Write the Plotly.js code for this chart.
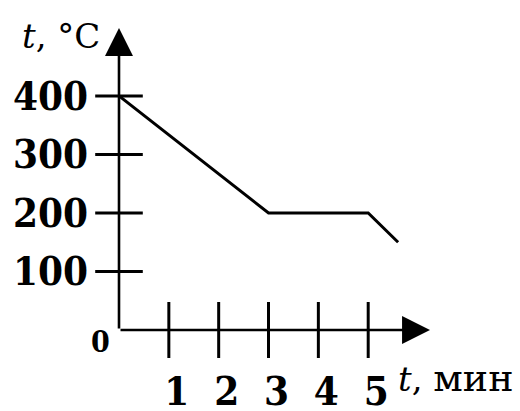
<!DOCTYPE html>
<html>
<head>
<meta charset="utf-8">
<script src="https://cdn.plot.ly/plotly-3.0.1.min.js"></script>
<style>html,body{margin:0;padding:0;background:#fff;}#chart{width:520px;height:411px;}</style>
</head>
<body>
<div id="chart"></div>
<script>
// data
const timeMin = [0, 3, 5, 5.6];
const tempC = [400, 200, 200, 150];
const xTickVals = [1, 2, 3, 4, 5];
const xTickText = ['1', '2', '3', '4', '5'];
const yTickVals = [100, 200, 300, 400];
const yTickText = ['100', '200', '300', '400'];
const xMax = 6.24;
const yMax = 516;

const FONT = 'DejaVu Serif Condensed, DejaVu Serif, serif';
const TFONT = 'DejaVu Serif, Liberation Serif, serif';

const traces = [
  {
    x: timeMin, y: tempC, mode: 'lines', type: 'scatter',
    line: {color: '#000', width: 3}, cliponaxis: false, hoverinfo: 'skip'
  },
  {
    x: xTickVals, y: xTickVals.map(() => 0), mode: 'markers', type: 'scatter',
    marker: {symbol: 'line-ns-open', size: 40, color: '#000', line: {color: '#000', width: 3}},
    cliponaxis: false, hoverinfo: 'skip'
  },
  {
    x: yTickVals.map(() => 0), y: yTickVals, mode: 'markers', type: 'scatter',
    marker: {symbol: 'line-ew-open', size: 34, color: '#000', line: {color: '#000', width: 3}},
    cliponaxis: false, hoverinfo: 'skip'
  }
];

const layout = {
  width: 520, height: 411,
  margin: {l: 119, r: 90, t: 28, b: 81},
  paper_bgcolor: '#fff', plot_bgcolor: '#fff',
  showlegend: false,
  font: {family: FONT, color: '#000'},
  xaxis: {
    range: [0, xMax], showgrid: false, zeroline: false, showline: false,
    tickvals: xTickVals, ticktext: xTickText, ticks: '',
    tickfont: {family: FONT, size: 40, color: '#000', weight: 'bold'},
    ticklabelstandoff: 34, ticklabelshift: 8, fixedrange: true
  },
  yaxis: {
    range: [0, yMax], showgrid: false, zeroline: false, showline: false,
    tickvals: yTickVals, ticktext: yTickText, ticks: '',
    tickfont: {family: FONT, size: 40, color: '#000', weight: 'bold'},
    ticklabelstandoff: 30, fixedrange: true
  },
  annotations: [
    {x: xMax, y: 0, ax: 0, ay: 0, xref: 'x', yref: 'y', axref: 'x', ayref: 'y',
     text: '', showarrow: true, arrowhead: 2, arrowsize: 2.15, arrowwidth: 2.6, arrowcolor: '#000', standoff: 0, startstandoff: 0},
    {x: 0, y: yMax, ax: 0, ay: 0, xref: 'x', yref: 'y', axref: 'x', ayref: 'y',
     text: '', showarrow: true, arrowhead: 2, arrowsize: 2.15, arrowwidth: 2.6, arrowcolor: '#000', standoff: 0, startstandoff: 0},
    {x: -0.318, y: 0.975, xref: 'paper', yref: 'paper', xanchor: 'left', yanchor: 'middle',
     text: '<i>t</i>, °C', showarrow: false, font: {family: TFONT, size: 34, color: '#000'}},
    {x: 0.89, y: -0.16, xref: 'paper', yref: 'paper', xanchor: 'left', yanchor: 'middle',
     text: '<i>t</i>, <span style="font-size:38px">мин</span>', showarrow: false, font: {family: TFONT, size: 34, color: '#000'}},
    {x: 0, y: 0, xref: 'x', yref: 'y', xanchor: 'right', yanchor: 'top', xshift: -7, yshift: 8,
     text: '0', showarrow: false, font: {family: FONT, size: 30, color: '#000', weight: 'bold'}}
  ]
};

Plotly.newPlot('chart', traces, layout, {displayModeBar: false, staticPlot: true});
</script>
</body>
</html>
